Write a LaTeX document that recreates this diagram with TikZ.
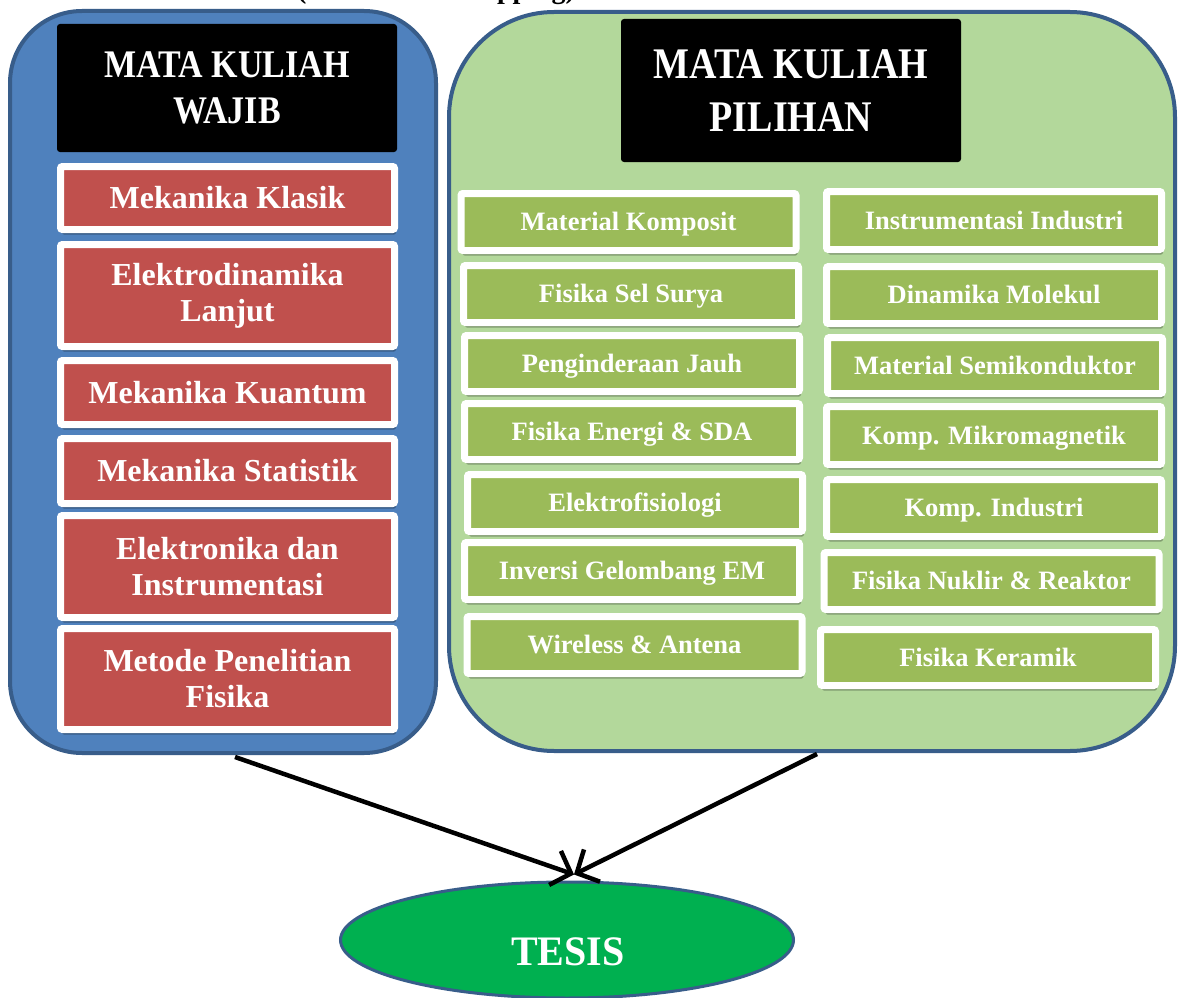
\documentclass[tikz,border=0pt]{standalone}
\usepackage{fontspec}
\setmainfont{Liberation Serif}
\usepackage{graphicx}
\usetikzlibrary{shapes.geometric,arrows.meta,shadows}
\definecolor{panelblue}{HTML}{4F81BD}
\definecolor{paneledge}{HTML}{385D8A}
\definecolor{panelgreen}{HTML}{B3D89B}
\definecolor{boxred}{HTML}{C0504D}
\definecolor{boxgreen}{HTML}{9BBB59}
\definecolor{tesisgreen}{HTML}{00B050}
\newcommand{\hdline}[1]{\scalebox{1}[1.15]{#1}}
\begin{document}
\begin{tikzpicture}[x=1pt,y=-1pt,
  panel/.style={draw=paneledge, line width=4pt, inner sep=0pt},
  hdr/.style={fill=black, rounded corners=3pt, inner sep=0pt, text=white, align=center, minimum width=340pt},
  course/.style={draw=white, line width=7pt, rounded corners=2pt, inner sep=0pt, text=white, align=center,
    drop shadow={shadow xshift=1.5pt, shadow yshift=-5pt, opacity=0.28, fill=black}},
  redbox/.style={course, fill=boxred, minimum width=334pt, font=\bfseries\fontsize{32}{36}\selectfont},
  greenbox/.style={course, fill=boxgreen, minimum width=335pt, text height=17.5pt, text depth=0pt,
    font=\bfseries\fontsize{26.5}{30}\selectfont},
  link/.style={line width=4.5pt, draw=black, -{Straight Barb[length=17pt,width=36pt]}},
]
\useasboundingbox (0,0) rectangle (1179,998);
\fill[white] (0,0) rectangle (1179,998);

% title, cut off at the top edge as in the reference
\begin{scope}
\clip (0,0) rectangle (1179,998);
\node[anchor=base, inner sep=0pt, font=\bfseries\fontsize{28}{32}\selectfont] (title) at (436,-1) {(Curriculum Mapping)};
\end{scope}

% panels
\node[panel, fill=panelblue, rounded corners=72pt, minimum width=426pt, minimum height=742pt] (wajib) at (223,382) {};
\node[panel, fill=panelgreen, rounded corners=105pt, minimum width=726pt, minimum height=739pt] (pilihan) at (812,381.5) {};

% headers
\node[hdr, minimum height=128pt, font=\bfseries\fontsize{34}{45.5}\selectfont] (hwajib) at (227,88) {\hdline{MATA KULIAH}\\\hdline{WAJIB}};
\node[hdr, minimum height=143pt, font=\bfseries\fontsize{38}{53}\selectfont] (hpilihan) at (791,90.5) {\hdline{MATA KULIAH}\\\hdline{PILIHAN}};

% mata kuliah wajib
\node[redbox, minimum height=63pt] (w1) at (227.5,198) {Mekanika Klasik};
\node[redbox, minimum height=102pt] (w2) at (227.5,295.5) {Elektrodinamika\\Lanjut};
\node[redbox, minimum height=64pt] (w3) at (227.5,392.5) {Mekanika Kuantum};
\node[redbox, minimum height=65pt] (w4) at (227.5,471) {Mekanika Statistik};
\node[redbox, minimum height=102pt] (w5) at (227.5,566.5) {Elektronika dan\\Instrumentasi};
\node[redbox, minimum height=101pt] (w6) at (227.5,679) {Metode Penelitian\\Fisika};

% mata kuliah pilihan, left column
\node[greenbox, minimum height=57pt] (p1) at (628.5,222) {Material Komposit};
\node[greenbox, minimum height=57pt] (p2) at (631,294) {Fisika Sel Surya};
\node[greenbox, minimum height=56pt] (p3) at (632,363.5) {Penginderaan Jauh};
\node[greenbox, minimum height=56pt] (p4) at (632,431.5) {Fisika Energi \& SDA};
\node[greenbox, minimum height=57pt] (p5) at (635,503) {Elektrofisiologi};
\node[greenbox, minimum height=57pt] (p6) at (632,571) {Inversi Gelombang EM};
\node[greenbox, minimum height=57pt] (p7) at (634.5,645) {Wireless \& Antena};

% mata kuliah pilihan, right column
\node[greenbox, minimum height=58pt] (q1) at (994,220.5) {Instrumentasi Industri};
\node[greenbox, minimum height=57pt] (q2) at (994,295) {Dinamika Molekul};
\node[greenbox, minimum height=56pt] (q3) at (995,365.5) {Material Semikonduktor};
\node[greenbox, minimum height=58pt] (q4) at (994,435.5) {Komp. Mikromagnetik};
\node[greenbox, minimum height=57pt] (q5) at (994,508) {Komp. Industri};
\node[greenbox, minimum height=57pt] (q6) at (991.5,581) {Fisika Nuklir \& Reaktor};
\node[greenbox, minimum height=56pt] (q7) at (988,657.5) {Fisika Keramik};

% tesis
\node[ellipse, draw=paneledge, line width=3pt, fill=tesisgreen, minimum width=453pt, minimum height=116pt, inner sep=0pt] (tesis) at (567,940) {};
\node[inner sep=0pt, text=white, font=\bfseries\fontsize{40}{44}\selectfont] (tesistext) at (568,952) {\scalebox{1}[1.05]{TESIS}};

% connectors
\coordinate (lstart) at (235,757);
\coordinate (rstart) at (817,754);
\draw[link] (lstart) -- ([xshift=7pt,yshift=6pt]tesis.north);
\draw[link] (rstart) -- ([xshift=7pt,yshift=6pt]tesis.north);
\end{tikzpicture}
\end{document}
